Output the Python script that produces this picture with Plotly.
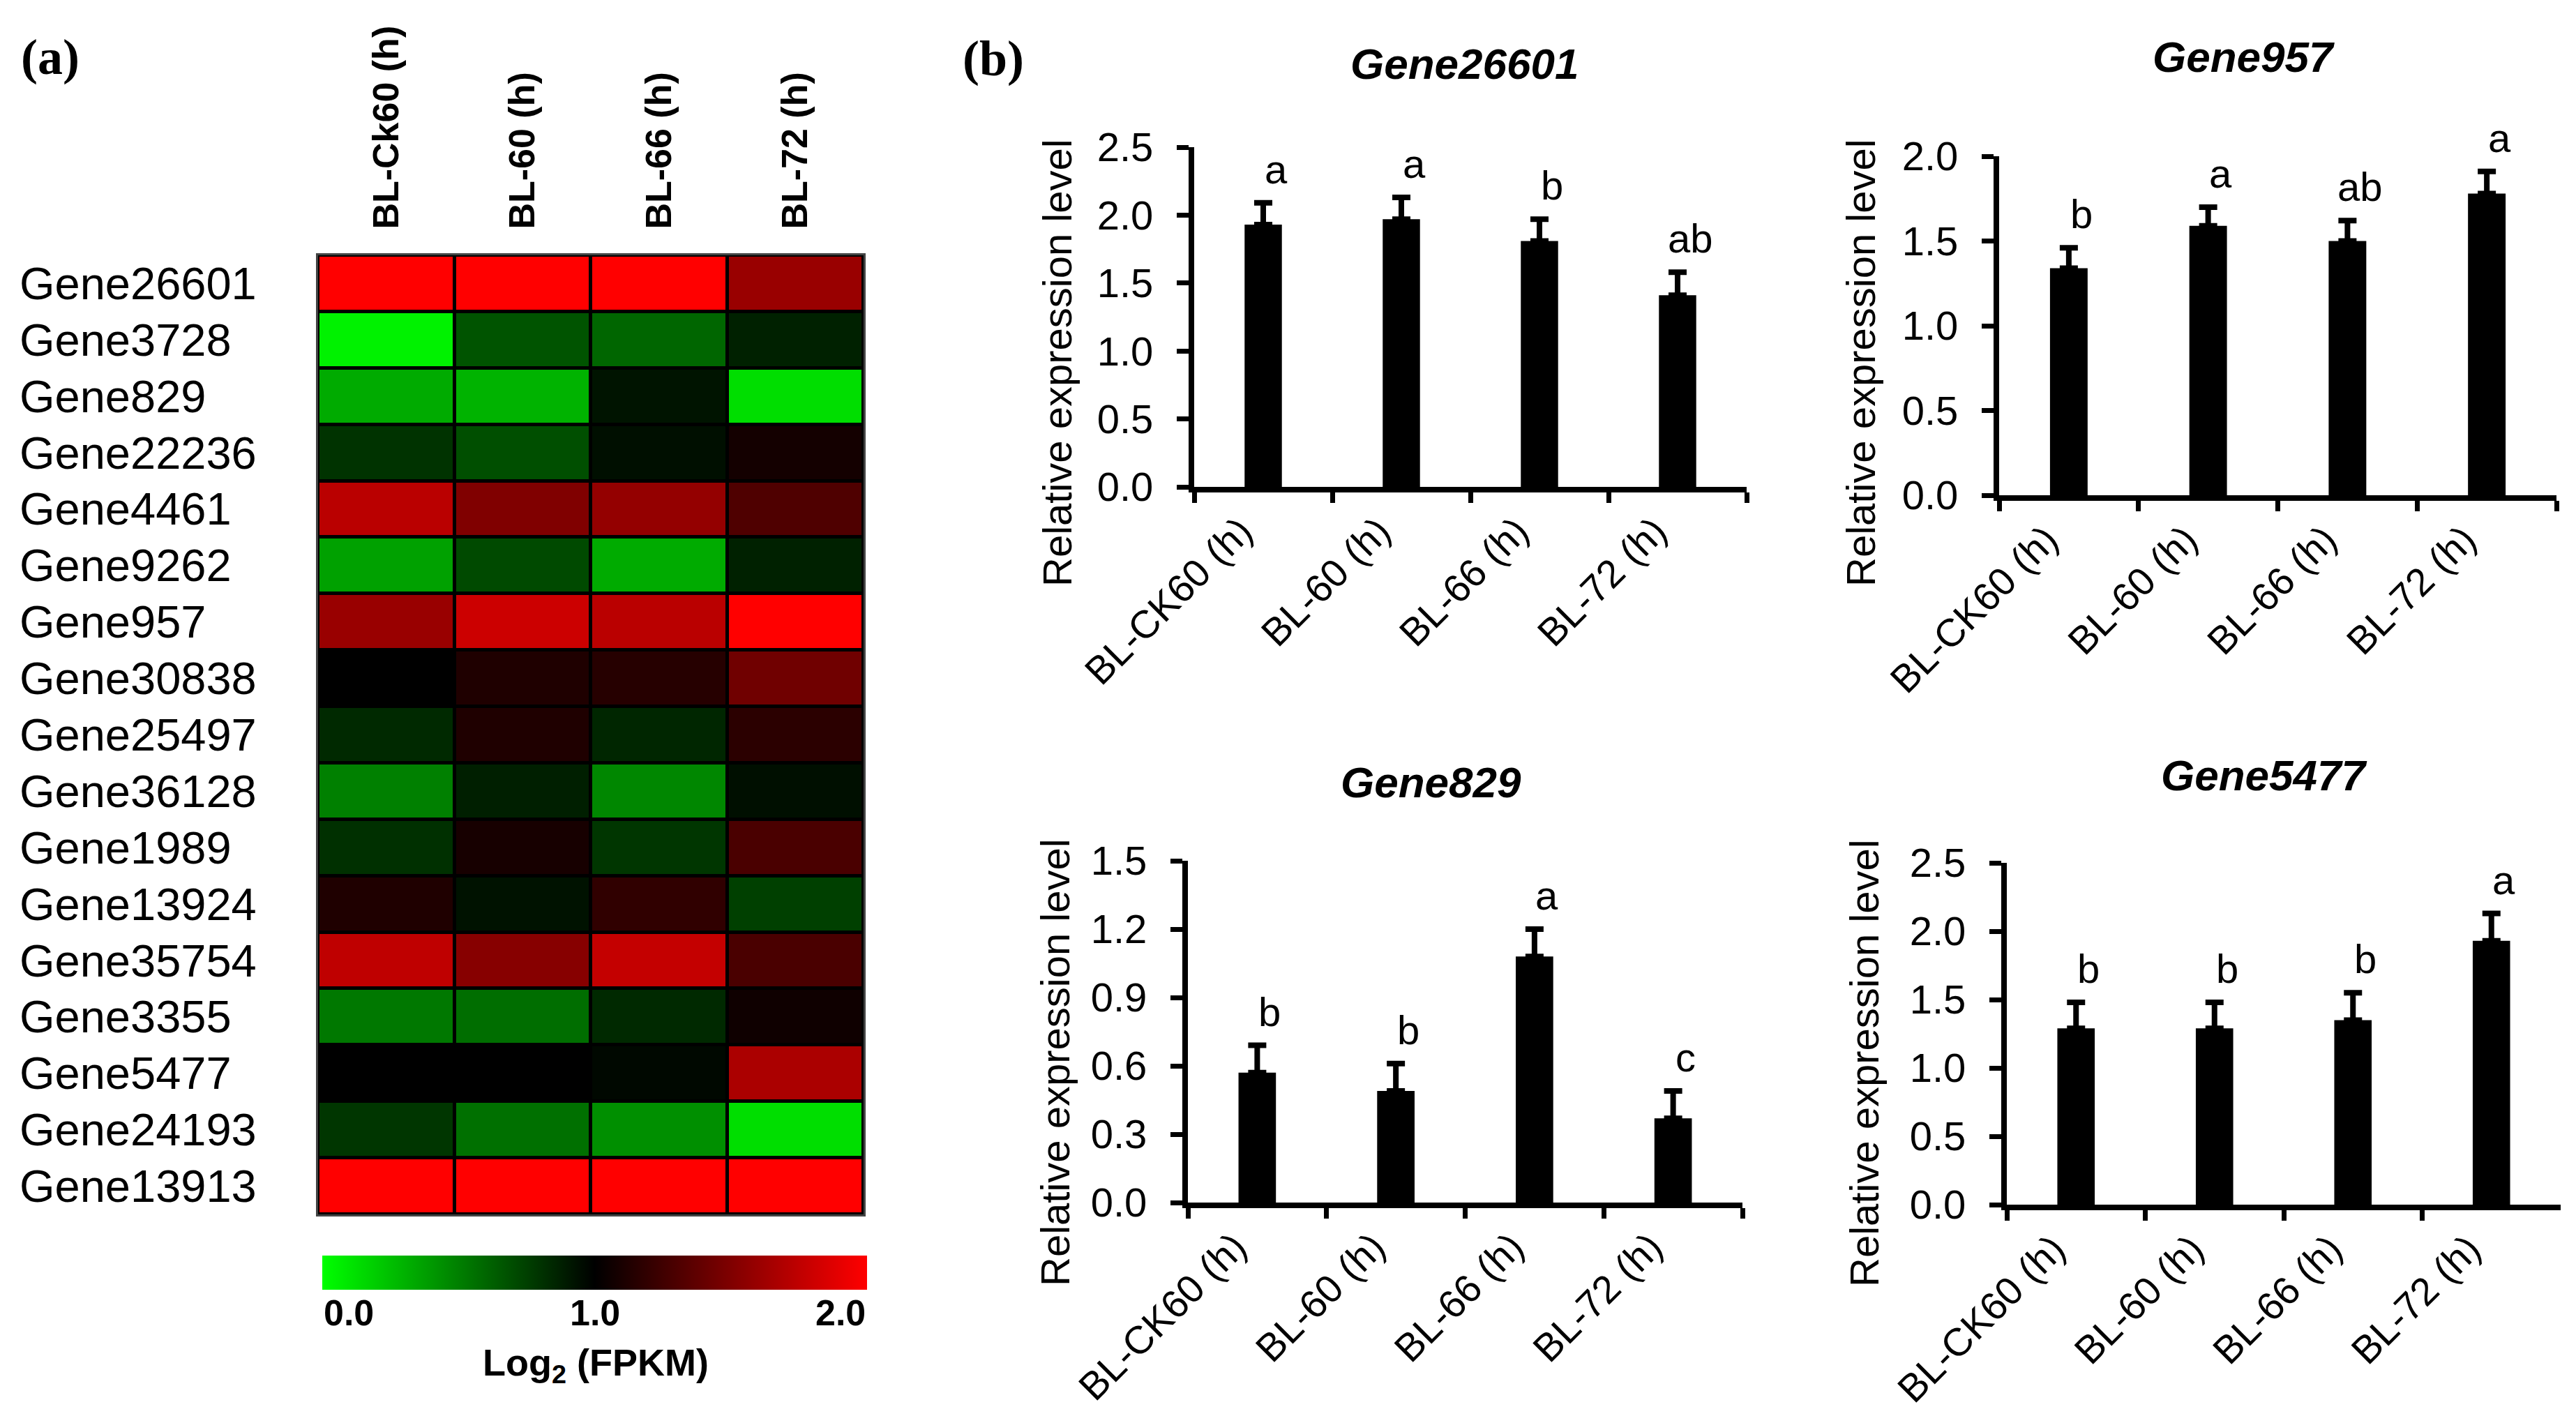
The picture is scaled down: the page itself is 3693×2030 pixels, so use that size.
import plotly.graph_objects as go

W, H = 3693, 2030
SANS = "Liberation Sans, Arial, sans-serif"
SERIF = "Liberation Serif, Times New Roman, serif"

# ---- heatmap data (a) ----
genes = [
    "Gene26601", "Gene3728", "Gene829", "Gene22236", "Gene4461", "Gene9262",
    "Gene957", "Gene30838", "Gene25497", "Gene36128", "Gene1989", "Gene13924",
    "Gene35754", "Gene3355", "Gene5477", "Gene24193", "Gene13913",
]
heat_cols = ["BL-Ck60 (h)", "BL-60 (h)", "BL-66 (h)", "BL-72 (h)"]
log2_fpkm = [
    [2.00, 2.00, 2.00, 1.60],
    [0.05, 0.67, 0.60, 0.87],
    [0.33, 0.30, 0.92, 0.13],
    [0.80, 0.69, 0.94, 1.08],
    [1.73, 1.50, 1.58, 1.31],
    [0.37, 0.71, 0.33, 0.87],
    [1.60, 1.80, 1.73, 2.00],
    [1.00, 1.12, 1.15, 1.44],
    [0.84, 1.12, 0.85, 1.17],
    [0.50, 0.88, 0.47, 0.94],
    [0.81, 1.09, 0.79, 1.29],
    [1.12, 0.93, 1.19, 0.75],
    [1.75, 1.53, 1.77, 1.29],
    [0.53, 0.57, 0.84, 1.06],
    [1.00, 1.00, 0.97, 1.67],
    [0.79, 0.56, 0.44, 0.13],
    [2.00, 2.00, 2.00, 2.00],
]
cbar_ticks = [0.0, 1.0, 2.0]

# ---- qRT-PCR data (b) ----
samples = ["BL-CK60 (h)", "BL-60 (h)", "BL-66 (h)", "BL-72 (h)"]
panel_genes = ["Gene26601", "Gene957", "Gene829", "Gene5477"]
rel_expr = [
    [1.93, 1.97, 1.81, 1.41],
    [1.34, 1.59, 1.50, 1.78],
    [0.57, 0.49, 1.08, 0.37],
    [1.29, 1.29, 1.35, 1.93],
]
rel_err = [
    [0.16, 0.16, 0.16, 0.17],
    [0.12, 0.11, 0.12, 0.13],
    [0.12, 0.12, 0.12, 0.12],
    [0.19, 0.19, 0.20, 0.20],
]
sig_letters = [
    ["a", "a", "b", "ab"],
    ["b", "a", "ab", "a"],
    ["b", "b", "a", "c"],
    ["b", "b", "b", "a"],
]
y_max = [2.5, 2.0, 1.5, 2.5]
y_step = [0.5, 0.5, 0.3, 0.5]


def px_x(v):
    return v / W


def px_y(v):
    return 1 - v / H


# pixel boxes: (left, right, top, bottom)
HEAT_BOX = (448, 1230, 358, 1733)
BAR_BOXES = [
    (1704, 2496, 203, 690),
    (2858, 3657, 216, 702),
    (1695, 2490, 1226, 1716),
    (2869, 3663, 1229, 1719),
]
TITLE_POS = [(2091, 84), (3208, 74), (2043, 1113), (3238, 1103)]
YTITLE_POS = [(1508, 512), (2660, 512), (1504, 1515), (2664, 1516)]
CB_LEFT, CB_RIGHT, CB_TOP, CB_THICK = 454, 1235, 1792, 49

COLORSCALE = [[0.0, "#00FF00"], [0.5, "#000000"], [1.0, "#FF0000"]]

fig = go.Figure()

# Heatmap
fig.add_trace(
    go.Heatmap(
        z=log2_fpkm,
        x=heat_cols,
        y=genes,
        zmin=0,
        zmax=2,
        colorscale=COLORSCALE,
        xgap=5,
        ygap=5,
        xaxis="x",
        yaxis="y",
        colorbar=dict(
            orientation="h",
            x=px_x((CB_LEFT + CB_RIGHT) / 2),
            xanchor="center",
            y=px_y(CB_TOP),
            yanchor="top",
            len=CB_RIGHT - CB_LEFT,
            lenmode="pixels",
            thickness=CB_THICK,
            thicknessmode="pixels",
            outlinewidth=0,
            xpad=0,
            ypad=0,
            showticklabels=False,
            ticks="",
        ),
        showscale=True,
    )
)

l, r, t, b = HEAT_BOX
layout_axes = dict(
    xaxis=dict(
        domain=[px_x(l), px_x(r)],
        anchor="y",
        side="top",
        tickangle=-90,
        tickvals=heat_cols,
        ticktext=["<b>%s</b>" % c for c in heat_cols],
        tickfont=dict(family=SANS, size=52, color="black"),
        ticks="",
        ticklabelstandoff=24,
        showline=True,
        mirror=True,
        linecolor="#444444",
        linewidth=3,
        showgrid=False,
        zeroline=False,
    ),
    yaxis=dict(
        domain=[px_y(b), px_y(t)],
        anchor="x",
        autorange="reversed",
        showticklabels=False,
        ticks="",
        showline=True,
        mirror=True,
        linecolor="#444444",
        linewidth=3,
        showgrid=False,
        zeroline=False,
    ),
)

annotations = []
shapes = [
    dict(type="rect", xref="x domain", yref="y domain", x0=0, x1=1, y0=0, y1=1,
         fillcolor="black", line=dict(width=0), layer="below")
]

# Row labels (left aligned)
for g in genes:
    annotations.append(dict(
        x=px_x(18), xref="paper", y=g, yref="y", xanchor="left", yanchor="middle",
        text=g, showarrow=False, font=dict(family=SANS, size=65, color="black"),
    ))

# Colorbar tick labels and title
for v in cbar_ticks:
    frac = (v - cbar_ticks[0]) / (cbar_ticks[-1] - cbar_ticks[0])
    anchor = "left" if frac == 0 else ("right" if frac == 1 else "center")
    annotations.append(dict(
        x=px_x(CB_LEFT + frac * (CB_RIGHT - CB_LEFT)), xref="paper",
        y=px_y(1874), yref="paper", xanchor=anchor, yanchor="middle",
        text="<b>%.1f</b>" % v, showarrow=False,
        font=dict(family=SANS, size=52, color="black"),
    ))
annotations.append(dict(
    x=px_x(846), xref="paper", y=px_y(1949), yref="paper",
    xanchor="center", yanchor="middle", text="<b>Log<sub>2</sub> (FPKM)</b>",
    showarrow=False, font=dict(family=SANS, size=54, color="black"),
))

# Panel letters
annotations.append(dict(x=px_x(20), y=px_y(74), xref="paper", yref="paper",
                        xanchor="left", yanchor="middle", text="<b>(a)</b>",
                        showarrow=False, font=dict(family=SERIF, size=72, color="black")))
annotations.append(dict(x=px_x(1370), y=px_y(76), xref="paper", yref="paper",
                        xanchor="left", yanchor="middle", text="<b>(b)</b>",
                        showarrow=False, font=dict(family=SERIF, size=72, color="black")))

# Bar panels
for i, gene in enumerate(panel_genes):
    k = i + 2
    xa, ya = "x%d" % k, "y%d" % k
    fig.add_trace(
        go.Bar(
            x=samples,
            y=rel_expr[i],
            width=0.27,
            marker=dict(color="black", line=dict(width=0)),
            error_y=dict(type="data", symmetric=False, array=rel_err[i],
                         arrayminus=[0] * len(rel_err[i]),
                         color="black", thickness=8, width=13),
            xaxis=xa,
            yaxis=ya,
            showlegend=False,
        )
    )
    l, r, t, b = BAR_BOXES[i]
    layout_axes["xaxis%d" % k] = dict(
        domain=[px_x(l), px_x(r)],
        anchor=ya,
        type="category",
        range=[-0.5, 3.5],
        tickson="boundaries",
        ticks="outside",
        ticklen=15,
        tickwidth=7,
        tickcolor="black",
        tickangle=-45,
        tickfont=dict(family=SANS, size=56, color="black"),
        ticklabelstandoff=0,
        ticklabelshift=-32,
        showline=True,
        linecolor="black",
        linewidth=8,
        showgrid=False,
        zeroline=False,
    )
    layout_axes["yaxis%d" % k] = dict(
        domain=[px_y(b), px_y(t)],
        anchor=xa,
        range=[0, y_max[i]],
        dtick=y_step[i],
        tick0=0,
        tickformat=".1f",
        ticks="outside",
        ticklen=17,
        tickwidth=7,
        tickcolor="black",
        tickfont=dict(family=SANS, size=58, color="black"),
        ticklabelstandoff=22,
        showline=True,
        linecolor="black",
        linewidth=8,
        showgrid=False,
        zeroline=False,
    )
    tx, ty = TITLE_POS[i]
    annotations.append(dict(
        x=px_x(tx), y=px_y(ty), xref="paper", yref="paper",
        xanchor="center", yanchor="middle", text="<b><i>%s</i></b>" % gene,
        showarrow=False, font=dict(family=SANS, size=62, color="black"),
    ))
    yx, yy = YTITLE_POS[i]
    annotations.append(dict(
        x=px_x(yx), y=px_y(yy), xref="paper", yref="paper",
        xanchor="center", yanchor="middle", textangle=-90,
        text="Relative expression level", showarrow=False,
        font=dict(family=SANS, size=58, color="black"),
    ))
    for j, s in enumerate(samples):
        annotations.append(dict(
            x=s, y=rel_expr[i][j] + rel_err[i][j], xref=xa, yref=ya,
            xanchor="center", yanchor="bottom", xshift=18, yshift=14,
            text=sig_letters[i][j], showarrow=False,
            font=dict(family=SANS, size=58, color="black"),
        ))

fig.update_layout(
    width=W,
    height=H,
    margin=dict(l=0, r=0, t=0, b=0, autoexpand=False),
    paper_bgcolor="white",
    plot_bgcolor="white",
    showlegend=False,
    annotations=annotations,
    shapes=shapes,
    **layout_axes,
)

fig.write_html("out.html")
